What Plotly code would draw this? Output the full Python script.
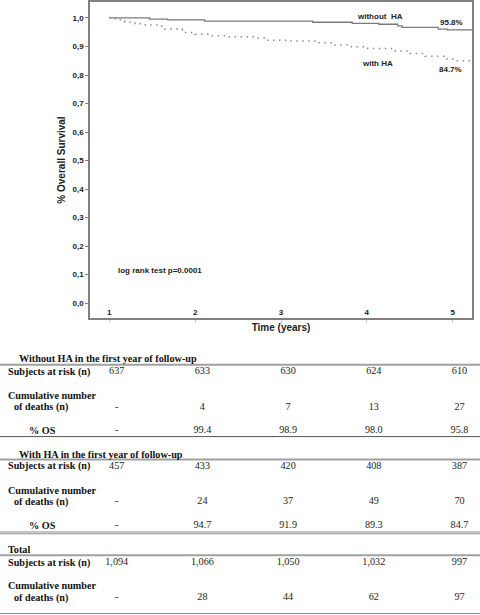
import plotly.graph_objects as go

# Kaplan-Meier curves
t_without = [1.0, 1.47, 1.68, 2.11, 3.37, 3.83, 4.14, 4.36, 4.41, 4.83, 4.94, 5.225]
s_without = [1.000, 0.996, 0.993, 0.989, 0.985, 0.981, 0.978, 0.972, 0.967, 0.961, 0.958, 0.958]

t_with = [1.0, 1.07, 1.18, 1.30, 1.42, 1.61, 1.85, 2.0, 2.2, 2.38, 2.70, 2.81,
          3.08, 3.43, 3.63, 3.82, 4.01, 4.33, 4.50, 4.68, 4.91, 5.0, 5.225]
s_with = [1.000, 0.994, 0.986, 0.980, 0.975, 0.961, 0.949, 0.943, 0.938, 0.934, 0.930, 0.922,
          0.919, 0.913, 0.905, 0.899, 0.893, 0.884, 0.875, 0.866, 0.856, 0.850, 0.848]

# table below the plot
years = [1, 2, 3, 4, 5]
without_risk = [637, 633, 630, 624, 610]
without_deaths = [None, 4, 7, 13, 27]
without_os = [None, 99.4, 98.9, 98.0, 95.8]
with_risk = [457, 433, 420, 408, 387]
with_deaths = [None, 24, 37, 49, 70]
with_os = [None, 94.7, 91.9, 89.3, 84.7]
total_risk = [1094, 1066, 1050, 1032, 997]
total_deaths = [None, 28, 44, 62, 97]

W, H = 480, 615
SANS = "Liberation Sans"
SERIF = "Liberation Serif"
GREY = "#7a7a7a"
TSIZE = 10.2


def fmt_int(v):
    return "-" if v is None else f"{v:,}"


def fmt_pct(v):
    return "-" if v is None else f"{v:.1f}"


fig = go.Figure()

fig.add_trace(go.Scatter(x=t_without, y=s_without, mode="lines", line_shape="hv",
                         line=dict(color=GREY, width=1.3), showlegend=False))
fig.add_trace(go.Scatter(x=t_with, y=s_with, mode="lines", line_shape="hv",
                         line=dict(color="#8a8a8a", width=1.5, dash="1.5px,4.5px"), showlegend=False))

# table rows: values and their y (px from top)
table_rows = [
    (without_risk, 371, fmt_int),
    (without_deaths, 406.5, fmt_int),
    (without_os, 430, fmt_pct),
    (with_risk, 465.5, fmt_int),
    (with_deaths, 501.5, fmt_int),
    (with_os, 525, fmt_pct),
    (total_risk, 562.5, fmt_int),
    (total_deaths, 597.5, fmt_int),
]
for vals, ypx, f in table_rows:
    fig.add_trace(go.Scatter(x=years, y=[ypx] * len(years), mode="text",
                             text=[f(v) for v in vals], textposition="middle center",
                             textfont=dict(family=SERIF, size=TSIZE, color="#222"),
                             xaxis="x2", yaxis="y2", showlegend=False, hoverinfo="skip"))

labels = [
    ("<b>Without HA in the first year of follow-up</b>", 17, 358),
    ("<b>Subjects at risk (n)</b>", 6, 371),
    ("<b>Cumulative number</b>", 6, 395),
    ("<b>of deaths (n)</b>", 12, 406.5),
    ("<b>% OS</b>", 27, 430),
    ("<b>With HA in the first year of follow-up</b>", 17, 453.5),
    ("<b>Subjects at risk (n)</b>", 6, 465.5),
    ("<b>Cumulative number</b>", 6, 490),
    ("<b>of deaths (n)</b>", 12, 501.5),
    ("<b>% OS</b>", 27, 525),
    ("<b>Total</b>", 6, 549.5),
    ("<b>Subjects at risk (n)</b>", 6, 562.5),
    ("<b>Cumulative number</b>", 6, 585.5),
    ("<b>of deaths (n)</b>", 12, 597.5),
]
annotations = []
for txt, xpx, ypx in labels:
    annotations.append(dict(text=txt, x=xpx / W, xref="paper", y=ypx, yref="y2",
                            xanchor="left", yanchor="middle", showarrow=False,
                            font=dict(family=SERIF, size=TSIZE, color="#111")))

# text inside the plot
plot_txt = dict(family=SANS, size=8, color="#222", weight="bold")
annotations += [
    dict(text="without  HA", x=4.15, y=1.006, xref="x", yref="y", showarrow=False, font=plot_txt),
    dict(text=f"{without_os[-1]:.1f}%", x=4.99, y=0.985, xref="x", yref="y", showarrow=False, font=plot_txt),
    dict(text="with HA", x=4.12, y=0.840, xref="x", yref="y", showarrow=False, font=plot_txt),
    dict(text=f"{with_os[-1]:.1f}%", x=4.98, y=0.818, xref="x", yref="y", showarrow=False, font=plot_txt),
    dict(text="log rank test p=0.0001", x=1.59, y=0.116, xref="x", yref="y", showarrow=False, font=plot_txt),
]

# table rules
shapes = []
for ypx, col, wd in [(364, "#a0a0a0", 2), (436, "#555555", 1), (459, "#a0a0a0", 2),
                     (531.7, "#8c8c8c", 1), (533.5, "#8c8c8c", 1), (555, "#a0a0a0", 2),
                     (613.5, "#8c8c8c", 1.2)]:
    shapes.append(dict(type="line", xref="paper", yref="y2", x0=0, x1=1, y0=ypx, y1=ypx,
                       line=dict(color=col, width=wd)))

fig.update_layout(
    width=W, height=H,
    margin=dict(l=0, r=0, t=0, b=0),
    paper_bgcolor="white", plot_bgcolor="rgba(0,0,0,0)",
    separators=", ",
    xaxis=dict(domain=[90 / W, 472 / W], range=[0.775, 5.225], tickvals=years,
               ticks="outside", ticklen=3, tickcolor="#cccccc",
               ticklabelposition="inside",
               tickfont=dict(family=SANS, size=8, color="#222", weight="bold"),
               showline=True, mirror=True, linecolor="#808080", linewidth=1.5,
               showgrid=False, zeroline=False,
               title=dict(text="Time (years)", standoff=8,
                          font=dict(family=SANS, size=10, color="#222", weight="bold"))),
    yaxis=dict(domain=[1 - 317 / H, 1], range=[-0.052, 1.056],
               tickvals=[i / 10 for i in range(11)], tickformat=".1f",
               ticks="outside", ticklen=3, tickcolor="#808080",
               tickfont=dict(family=SANS, size=8, color="#222", weight="bold"),
               showline=True, mirror=True, linecolor="#808080", linewidth=1.5,
               showgrid=False, zeroline=False,
               title=dict(text="% Overall Survival", standoff=5,
                          font=dict(family=SANS, size=10, color="#222", weight="bold"))),
    xaxis2=dict(domain=[0, 1], range=[1 - 116.7 / 85.7, 1 + (W - 116.7) / 85.7],
                visible=False, anchor="y2"),
    yaxis2=dict(domain=[0, 1], range=[H, 0], visible=False, anchor="x2"),
    annotations=annotations,
    shapes=shapes,
)

fig.write_html("out.html", config={"displayModeBar": False},
               post_script="document.body.style.margin='0';")
